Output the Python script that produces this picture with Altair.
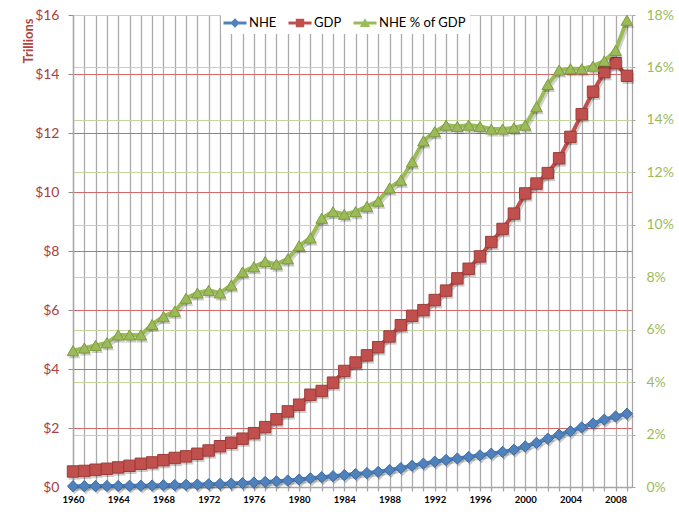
import altair as alt
import pandas as pd

years = list(range(1960, 2010))
series_names = ["NHE", "GDP", "NHE % of GDP"]
series_colors = ["#4F81BD", "#C0504D", "#9BBB59"]
series_strokes = ["#3D6BA3", "#9E3B38", "#7E9B40"]

# Trillions of dollars
nhe = [0.027, 0.029, 0.031, 0.035, 0.038, 0.042, 0.046, 0.052, 0.059, 0.066,
       0.075, 0.083, 0.093, 0.103, 0.117, 0.133, 0.152, 0.173, 0.194, 0.221,
       0.256, 0.296, 0.334, 0.368, 0.404, 0.440, 0.472, 0.513, 0.577, 0.642,
       0.724, 0.792, 0.859, 0.918, 0.967, 1.021, 1.073, 1.131, 1.191, 1.265,
       1.378, 1.494, 1.638, 1.773, 1.895, 2.022, 2.153, 2.284, 2.392, 2.486]
gdp = [0.526, 0.545, 0.586, 0.618, 0.664, 0.719, 0.788, 0.833, 0.910, 0.985,
       1.039, 1.127, 1.238, 1.383, 1.500, 1.638, 1.825, 2.031, 2.295, 2.563,
       2.790, 3.128, 3.255, 3.537, 3.933, 4.220, 4.463, 4.740, 5.104, 5.484,
       5.803, 5.996, 6.338, 6.657, 7.072, 7.398, 7.817, 8.304, 8.747, 9.268,
       9.951, 10.286, 10.642, 11.142, 11.868, 12.638, 13.399, 14.062, 14.369, 13.939]
# percent
pct = [5.2, 5.3, 5.4, 5.5, 5.8, 5.8, 5.8, 6.2, 6.5, 6.7,
       7.2, 7.4, 7.5, 7.4, 7.7, 8.2, 8.4, 8.6, 8.5, 8.7,
       9.2, 9.5, 10.25, 10.5, 10.4, 10.5, 10.7, 10.9, 11.4, 11.7,
       12.4, 13.2, 13.55, 13.8, 13.75, 13.8, 13.75, 13.65, 13.65, 13.7,
       13.8, 14.5, 15.35, 15.9, 15.95, 15.95, 16.05, 16.25, 16.65, 17.8]

left_ticks = list(range(0, 17, 2))
right_ticks = list(range(0, 19, 2))

rows = []
for name, vals in zip(series_names, [nhe, gdp, pct]):
    for y, v in zip(years, vals):
        rows.append({"year": y, "series": name, "value": v})
df = pd.DataFrame(rows)
left_df = df[df.series != "NHE % of GDP"]
right_df = df[df.series == "NHE % of GDP"]

FONT = "Lato"

x_enc = alt.X(
    "year:Q",
    scale=alt.Scale(domain=[1960, 2009.45], nice=False, zero=False),
    axis=alt.Axis(
        values=years, format="d", title=None,
        labelExpr="datum.value % 4 == 0 ? datum.label : ''",
        labelFont=FONT, labelFontSize=9.5, labelFontWeight="bold", labelColor="#000000",
        labelPadding=3, labelFlush=False, labelOverlap=False,
        grid=True, gridColor="#ABABAB", gridWidth=1.3,
        domainColor="#A6A6A6", domainWidth=1.3,
        tickColor="#A6A6A6", tickSize=4, tickWidth=1.3,
    ),
)

left_axis = alt.Axis(
    values=left_ticks, labelExpr="'$' + datum.value",
    labelFont=FONT, labelFontSize=14, labelColor="#A8403C", labelPadding=9,
    grid=True, gridColor="#D46A67", gridWidth=1,
    domainColor="#A6A6A6", domainWidth=1.3, tickColor="#8C8C8C", tickSize=5,
    title="Trillions", titleFont=FONT, titleFontSize=13, titleFontWeight="bold",
    titleColor="#B0433F", titleAngle=270, titleAlign="right", titleBaseline="alphabetic",
    titleX=-41, titleY=3,
)
right_axis = alt.Axis(
    values=right_ticks, labelExpr="datum.value + '%'", orient="right",
    labelFont=FONT, labelFontSize=14, labelColor="#9BBB59", labelPadding=11,
    grid=True, gridColor="#C3D69B", gridWidth=1,
    domainColor="#A6A6A6", domainWidth=1.3, tickColor="#A6A6A6", tickSize=3,
    title=None,
)

color_scale = alt.Scale(domain=series_names, range=series_colors)
stroke_scale = alt.Scale(domain=series_names, range=series_strokes)
shape_scale = alt.Scale(domain=series_names, range=["diamond", "square", "triangle-up"])
size_scale = alt.Scale(domain=series_names, range=[125, 135, 150])


def build(data, y_enc):
    base = alt.Chart(data)
    shadow_line = base.mark_line(strokeWidth=4, color="#000000", opacity=0.18,
                                 xOffset=1.5, yOffset=2.5).encode(
        x=x_enc, y=y_enc, detail="series:N")
    line = base.mark_line(strokeWidth=4).encode(
        x=x_enc, y=y_enc,
        color=alt.Color("series:N", scale=color_scale, legend=None))
    shadow_pts = base.mark_point(filled=True, color="#000000", opacity=0.2,
                                 xOffset=1.5, yOffset=2.5).encode(
        x=x_enc, y=y_enc,
        shape=alt.Shape("series:N", scale=shape_scale, legend=None),
        size=alt.Size("series:N", scale=size_scale, legend=None))
    pts = base.mark_point(filled=True, opacity=1, strokeWidth=1).encode(
        x=x_enc, y=y_enc,
        color=alt.Color("series:N", scale=color_scale, legend=None),
        stroke=alt.Stroke("series:N", scale=stroke_scale, legend=None),
        shape=alt.Shape("series:N", scale=shape_scale, legend=None),
        size=alt.Size("series:N", scale=size_scale, legend=None))
    return alt.layer(shadow_line, line, shadow_pts, pts).resolve_scale(
        color="independent", shape="independent", size="independent", stroke="independent")


left = build(left_df, alt.Y("value:Q", scale=alt.Scale(domain=[0, 16], nice=False), axis=left_axis))
right = build(right_df, alt.Y("value:Q", scale=alt.Scale(domain=[0, 18], nice=False), axis=right_axis))

# legend glyphs: line stub + marker
legend_paths = [
    "M-1.15,-0.15L1.15,-0.15L1.15,0.15L-1.15,0.15Z M0,-0.48L0.48,0L0,0.48L-0.48,0Z",
    "M-1.15,-0.15L1.15,-0.15L1.15,0.15L-1.15,0.15Z M-0.42,-0.42L0.42,-0.42L0.42,0.42L-0.42,0.42Z",
    "M-1.15,-0.15L1.15,-0.15L1.15,0.15L-1.15,0.15Z M0,-0.48L0.52,0.4L-0.52,0.4Z",
]
leg = alt.Legend(
    orient="none", legendX=148, legendY=-6, direction="horizontal", title=None,
    fillColor="white", padding=4, symbolSize=400, symbolOpacity=1, symbolStrokeWidth=0,
    labelFont=FONT, labelFontSize=13, labelColor="#000000", labelOffset=4,
    columnPadding=11,
)
legend_layer = alt.Chart(df).mark_point(filled=True, size=0).encode(
    color=alt.Color("series:N", scale=color_scale, legend=leg),
    shape=alt.Shape("series:N", scale=alt.Scale(domain=series_names, range=legend_paths), legend=leg),
)

chart = alt.layer(left, right, legend_layer).resolve_scale(
    y="independent", color="independent", shape="independent", size="independent", stroke="independent"
).properties(
    width=559, height=472,
    autosize=alt.AutoSizeParams(type="none"),
    padding={"left": 73, "top": 15, "right": 47, "bottom": 28},
    background="white",
).configure_view(strokeWidth=0)

chart.save("out.html", embed_options={"renderer": "svg", "actions": False})
